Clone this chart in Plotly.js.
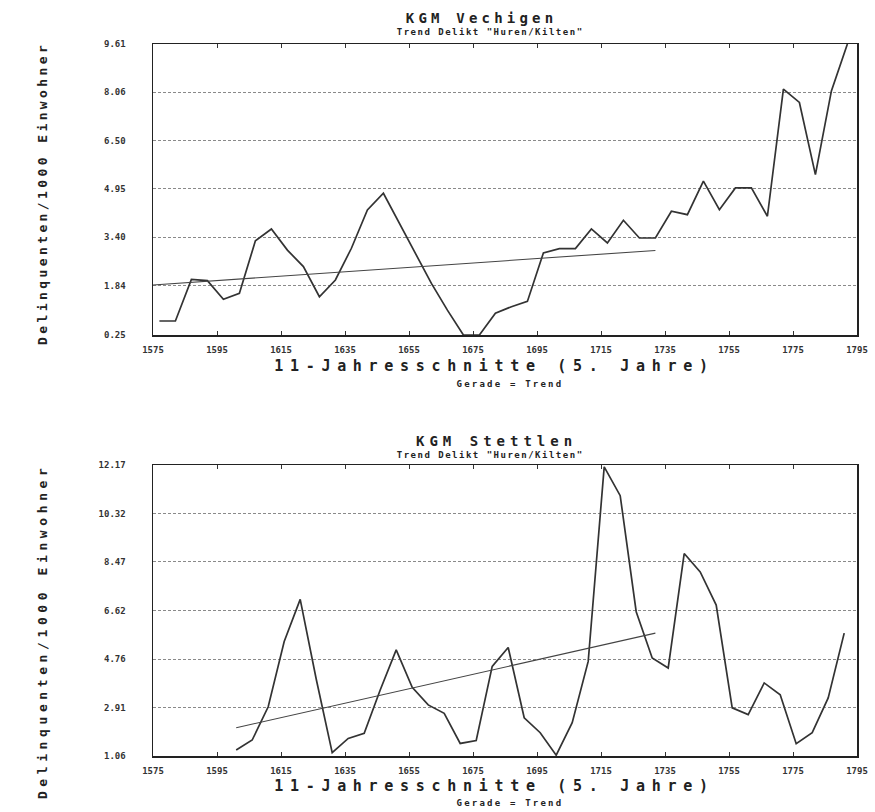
<!DOCTYPE html>
<html>
<head>
<meta charset="utf-8">
<script src="https://cdn.plot.ly/plotly-3.0.1.min.js"></script>
<style>
  html, body { margin: 0; padding: 0; background: #fff; }
  #chart { width: 875px; height: 812px; }
</style>
</head>
<body>
<div id="chart"></div>
<script>
// ---- Data: KGM Vechigen (top) ----
const topYears = [1577,1582,1587,1592,1597,1602,1607,1612,1617,1622,1627,1632,1637,1642,1647,1652,1657,1662,1667,1672,1677,1682,1687,1692,1697,1702,1707,1712,1717,1722,1727,1732,1737,1742,1747,1752,1757,1762,1767,1772,1777,1782,1787,1792];
const topValues = [0.70,0.70,2.04,2.00,1.40,1.59,3.28,3.66,2.98,2.45,1.48,2.02,3.04,4.27,4.81,3.84,2.88,1.91,1.05,0.25,0.25,0.95,1.16,1.33,2.89,3.03,3.03,3.66,3.21,3.94,3.37,3.37,4.23,4.12,5.20,4.28,4.98,4.98,4.07,8.16,7.73,5.41,8.10,9.61];
const topTrendYears = [1575, 1732];
const topTrendValues = [1.86, 2.97];
const topYTicks = [0.25, 1.84, 3.40, 4.95, 6.50, 8.06, 9.61];
const topYTickText = ["0.25","1.84","3.40","4.95","6.50","8.06","9.61"];

// ---- Data: KGM Stettlen (bottom) ----
const botYears = [1601,1606,1611,1616,1621,1626,1631,1636,1641,1646,1651,1656,1661,1666,1671,1676,1681,1686,1691,1696,1701,1706,1711,1716,1721,1726,1731,1736,1741,1746,1751,1756,1761,1766,1771,1776,1781,1786,1791];
const botValues = [1.29,1.67,2.94,5.43,7.04,4.00,1.19,1.73,1.93,3.58,5.11,3.68,3.01,2.69,1.54,1.65,4.48,5.20,2.52,1.95,1.09,2.33,4.67,12.10,11.00,6.57,4.80,4.42,8.79,8.09,6.82,2.90,2.64,3.85,3.40,1.53,1.95,3.28,5.75];
const botTrendYears = [1601, 1732];
const botTrendValues = [2.14, 5.75];
const botYTicks = [1.06, 2.91, 4.76, 6.62, 8.47, 10.32, 12.17];
const botYTickText = ["1.06","2.91","4.76","6.62","8.47","10.32","12.17"];

const xTicks = [1575,1595,1615,1635,1655,1675,1695,1715,1735,1755,1775,1795];

// ---- Texts ----
const titleTop = "KGM Vechigen";
const titleBot = "KGM Stettlen";
const subTitle = 'Trend Delikt "Huren/Kilten"';
const xTitle = "11-Jahresschnitte (5. Jahre)";
const legendNote = "Gerade = Trend";
const yTitle = "Delinquenten/1000 Einwohner";

const W = 875, H = 812;
const px = x => x / W;
const py = y => 1 - y / H;

const MONO = "DejaVu Sans Mono, monospace";
const lineColor = "#333333";

const traces = [
  { x: topYears, y: topValues, xaxis: "x", yaxis: "y", type: "scatter", mode: "lines",
    line: { color: lineColor, width: 1.7 }, hoverinfo: "x+y" },
  { x: topTrendYears, y: topTrendValues, xaxis: "x", yaxis: "y", type: "scatter", mode: "lines",
    line: { color: "#444", width: 1.1 }, hoverinfo: "skip" },
  { x: botYears, y: botValues, xaxis: "x2", yaxis: "y2", type: "scatter", mode: "lines",
    line: { color: lineColor, width: 1.7 }, hoverinfo: "x+y" },
  { x: botTrendYears, y: botTrendValues, xaxis: "x2", yaxis: "y2", type: "scatter", mode: "lines",
    line: { color: "#444", width: 1.1 }, hoverinfo: "skip" }
];

const tickFont = { family: MONO, size: 9, color: "#333", weight: "bold" };
const xDomain = [px(153), px(857)];

function xAxis(anchor) {
  return {
    domain: xDomain, anchor: anchor, range: [1575, 1795],
    tickmode: "array", tickvals: xTicks, ticktext: xTicks.map(String),
    ticks: "inside", ticklen: 4, tickwidth: 1, tickcolor: "#333",
    showline: true, linecolor: "#222", linewidth: 1.5, mirror: "ticks",
    showgrid: false, zeroline: false, tickfont: tickFont, ticklabelstandoff: 6
  };
}
function yAxis(anchor, domain, range, vals, text) {
  return {
    domain: domain, anchor: anchor, range: range,
    tickmode: "array", tickvals: vals, ticktext: text,
    ticks: "", showline: true, linecolor: "#222", linewidth: 1.5, mirror: true,
    showgrid: true, gridcolor: "#8a8a8a", gridwidth: 1, griddash: "3px,2px",
    zeroline: false, tickfont: tickFont, ticklabelstandoff: 24
  };
}

const spacings = [];
const annotations = [];
function addText(text, x, y, size, spacing, opts) {
  annotations.push(Object.assign({
    text: text, x: px(x), y: py(y), xref: "paper", yref: "paper",
    xanchor: "center", yanchor: "middle", showarrow: false,
    font: { family: MONO, size: size, color: "#222", weight: "bold" }
  }, opts || {}));
  spacings.push(spacing);
}

// top chart texts
addText(titleTop, 482, 18, 14, 4.2);
addText(subTitle, 490, 32, 9, 1.5);
addText(xTitle, 494, 366, 15, 6.7);
addText(legendNote, 510, 384, 9, 2.2);
addText(yTitle, 42, 194, 13, 3.4, { textangle: -90 });
// bottom chart texts
addText(titleBot, 497, 441, 14, 5);
addText(subTitle, 490, 455, 9, 1.5);
addText(xTitle, 494, 786, 15, 6.7);
addText(legendNote, 510, 803, 9, 2.2);
addText(yTitle, 42, 632, 13, 4.6, { textangle: -90 });

const layout = {
  width: W, height: H,
  margin: { l: 0, r: 0, t: 0, b: 0 },
  paper_bgcolor: "#ffffff", plot_bgcolor: "#ffffff",
  showlegend: false,
  xaxis: xAxis("y"),
  yaxis: yAxis("x", [py(335), py(44)], [0.25, 9.61], topYTicks, topYTickText),
  xaxis2: xAxis("y2"),
  yaxis2: yAxis("x2", [py(756), py(465)], [1.06, 12.17], botYTicks, botYTickText),
  annotations: annotations
};

Plotly.newPlot("chart", traces, layout, { staticPlot: true, displayModeBar: false }).then(() => {
  const texts = document.querySelectorAll(".annotation-text");
  texts.forEach((t, i) => {
    if (spacings[i] !== undefined) t.setAttribute("letter-spacing", spacings[i] + "px");
  });
});
</script>
</body>
</html>
